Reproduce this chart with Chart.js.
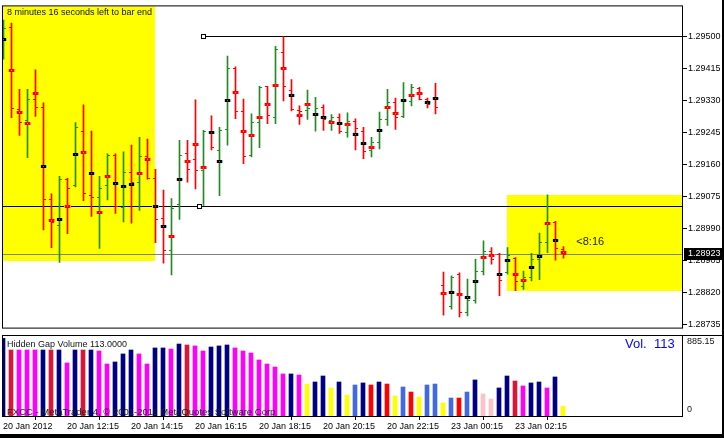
<!DOCTYPE html>
<html>
<head>
<meta charset="utf-8">
<script src="https://cdn.jsdelivr.net/npm/chart.js@4.4.1/dist/chart.umd.min.js"></script>
<style>
html, body { margin: 0; padding: 0; background: #fff; }
#wrap { position: relative; width: 724px; height: 438px; overflow: hidden; background: #fff; }
#priceChart { position: absolute; left: 0; top: 0; }
#volChart { position: absolute; left: 0; top: 334px; }
.edgeR { position: absolute; left: 722px; top: 0; width: 2px; height: 438px; background: #000; }
.edgeB { position: absolute; left: 0; top: 434px; width: 724px; height: 4px; background: #000; }
</style>
</head>
<body>
<div id="wrap">
  <canvas id="priceChart" width="724" height="334"></canvas>
  <canvas id="volChart" width="724" height="104"></canvas>
  <div class="edgeR"></div>
  <div class="edgeB"></div>
</div>
<script>
// EURUSD-like M15 bars
var opens = [1.29472,1.29523,1.29306,1.29277,1.29332,1.29313,1.29067,1.29000,1.29122,1.29104,
  1.29249,1.29078,1.29072,1.29106,1.29184,1.29047,1.29140,1.29114,1.29181,1.29124,
  1.29018,1.28932,1.29054,1.29189,1.29173,1.29145,1.29249,1.29199,1.29254,1.29414,
  1.29300,1.29184,1.29272,1.29368,1.29285,1.29459,1.29358,1.29303,1.29303,1.29293,
  1.29311,1.29277,1.29285,1.29246,1.29275,1.29249,1.29197,1.29218,1.29280,1.29326,
  1.29288,1.29329,1.29363,1.29334,1.29339,1.28839,1.28785,1.28870,1.28767,1.28800,
  1.28878,1.28930,1.28922,1.28875,1.28912,1.28837,1.28860,1.28909,1.28953,1.29008,
  1.28935];
var highs = [1.29544,1.29536,1.29360,1.29360,1.29412,1.29324,1.29083,1.29129,1.29124,1.29272,
  1.29319,1.29249,1.29129,1.29189,1.29189,1.29194,1.29212,1.29233,1.29228,1.29148,
  1.29093,1.29070,1.29225,1.29225,1.29332,1.29251,1.29290,1.29259,1.29448,1.29420,
  1.29334,1.29295,1.29368,1.29368,1.29474,1.29500,1.29386,1.29316,1.29358,1.29339,
  1.29319,1.29293,1.29295,1.29298,1.29282,1.29259,1.29233,1.29300,1.29360,1.29337,
  1.29378,1.29373,1.29365,1.29337,1.29376,1.28875,1.28865,1.28873,1.28857,1.28909,
  1.28958,1.28940,1.28925,1.28940,1.28914,1.28878,1.28925,1.28979,1.29080,1.29010,
  1.28943];
var lows = [1.29440,1.29285,1.29238,1.29179,1.29288,1.28987,1.28940,1.28901,1.28977,1.29101,
  1.29065,1.29023,1.28938,1.29067,1.29031,1.29008,1.29005,1.29039,1.29122,1.28953,
  1.28899,1.28868,1.29015,1.29114,1.29096,1.29052,1.29199,1.29078,1.29212,1.29282,
  1.29163,1.29181,1.29205,1.29269,1.29269,1.29329,1.29303,1.29267,1.29280,1.29249,
  1.29251,1.29251,1.29243,1.29233,1.29199,1.29176,1.29181,1.29202,1.29264,1.29254,
  1.29285,1.29316,1.29332,1.29311,1.29295,1.28761,1.28777,1.28756,1.28759,1.28793,
  1.28868,1.28896,1.28813,1.28870,1.28826,1.28829,1.28852,1.28855,1.28927,1.28907,
  1.28912];
var closes = [1.29521,1.29308,1.29272,1.29332,1.29311,1.29067,1.29008,1.29122,1.29098,1.29259,
  1.29085,1.29072,1.29098,1.29184,1.29049,1.29140,1.29114,1.29181,1.29124,1.29015,
  1.28932,1.29044,1.29184,1.29148,1.29145,1.29249,1.29207,1.29251,1.29414,1.29300,
  1.29181,1.29272,1.29365,1.29290,1.29466,1.29368,1.29306,1.29300,1.29308,1.29308,
  1.29280,1.29285,1.29249,1.29275,1.29256,1.29194,1.29218,1.29280,1.29324,1.29285,
  1.29329,1.29365,1.29334,1.29321,1.29311,1.28816,1.28862,1.28767,1.28800,1.28878,
  1.28930,1.28909,1.28852,1.28920,1.28850,1.28860,1.28909,1.28953,1.29008,1.28938,
  1.28923];
// median marker colour per bar: r = red, k = black
var markerKinds = ('krrrrkrkrk' + 'rkrrkkkrrk' + 'krkrrrkkkr' + 'rrrrrrkrrk' + 'krkrkkrkrr' +
  'krrkkrkrkk' + 'rrkkrrkkrk' + 'r').split('');

// Hidden Gap Volume histogram
var volumes = [885,749,749,749,749,749,749,749,602,749,
  749,749,738,590,613,704,749,704,590,772,
  772,760,817,806,795,738,783,795,806,772,
  738,715,636,590,556,477,477,465,363,386,
  454,318,386,238,352,375,352,386,363,227,
  329,272,216,352,363,148,204,204,272,409,
  250,193,318,454,397,341,375,386,318,443,
  113];
var volKinds = ('NCMMMNCNMN' + 'CNMMNNNMMN' + 'NMNCMMNNNM' + 'MMMMMMNMYN' + 'NYNYBNRNRY' +
  'BRYBBYBRBN' + 'PPNNCMNNMN' + 'Y').split('');
var volPalette = { N: '#000080', C: '#dc143c', M: '#ff00ff', Y: '#ffff00', B: '#4169e1', R: '#ff0000', P: '#ffc0cb' };

var timeLabels = ['20 Jan 2012', '20 Jan 12:15', '20 Jan 14:15', '20 Jan 16:15', '20 Jan 18:15',
  '20 Jan 20:15', '20 Jan 22:15', '23 Jan 00:15', '23 Jan 02:15'];
var labelIdx = [0, 8, 16, 24, 32, 40, 48, 56, 64];
var priceTicks = [1.28735, 1.28820, 1.28905, 1.28990, 1.29075, 1.29160, 1.29245, 1.29330, 1.29415, 1.29500];

// objects on the chart
var boxFrom = [-0.0625, 62.94];
var boxTo = [18.94, 84.9375];
var boxTop = [1.29580, 1.29080];
var boxBottom = [1.28904, 1.28826];
var levelPrices = [1.29500, 1.29050];
var levelFrom = [25.0, -0.0625];
var anchorIdx = [25.0, 24.5];
var countdownAt = [71.6, 1.28956];

var xMin = -0.0625, xMax = 84.9375;
var upColor = '#228b22', downColor = '#ff0000';

Chart.defaults.font.family = "'Liberation Sans', Arial, sans-serif";
Chart.defaults.font.size = 9;
Chart.defaults.color = '#000';
Chart.defaults.animation = false;

function tickImage(color, open) {
  var c = document.createElement('canvas');
  c.width = 7; c.height = 1;
  var g = c.getContext('2d');
  g.fillStyle = color;
  g.fillRect(open ? 1 : 4, 0, 2, 1);
  return c;
}
function markerImage(kind) {
  var c = document.createElement('canvas');
  c.width = 7; c.height = 3;
  var g = c.getContext('2d');
  g.fillStyle = kind === 'r' ? '#ff0000' : '#000000';
  g.fillRect(0, 0, 7, 3);
  g.fillStyle = kind === 'r' ? '#ffb070' : '#f0c890';
  g.fillRect(0, 0, 1, 3);
  g.fillStyle = kind === 'r' ? '#ff7fa0' : '#70c8ff';
  g.fillRect(6, 0, 1, 3);
  g.fillStyle = kind === 'r' ? '#ff9a9a' : '#7a7a7a';
  g.fillRect(3, 1, 1, 1);
  return c;
}

var idx = opens.map(function (_, i) { return i; });
var isUp = idx.map(function (i) { return closes[i] >= opens[i]; });
var imgs = {
  openUp: tickImage(upColor, true), openDn: tickImage(downColor, true),
  closeUp: tickImage(upColor, false), closeDn: tickImage(downColor, false),
  r: markerImage('r'), k: markerImage('k')
};

var priceDecor = {
  id: 'priceDecor',
  beforeDatasetsDraw: function (chart) {
    var ctx = chart.ctx, a = chart.chartArea, x = chart.scales.x, y = chart.scales.y;
    ctx.save();
    ctx.beginPath();
    ctx.rect(a.left, a.top, a.right - a.left, a.bottom - a.top);
    ctx.clip();
    ctx.fillStyle = '#ffff00';
    for (var k = 0; k < boxFrom.length; k++) {
      var x0 = Math.round(x.getPixelForValue(boxFrom[k])), x1 = Math.round(x.getPixelForValue(boxTo[k]));
      var y0 = Math.round(y.getPixelForValue(boxTop[k])), y1 = Math.round(y.getPixelForValue(boxBottom[k]));
      ctx.fillRect(x0, y0, x1 - x0, y1 - y0);
    }
    // bid line
    var py = Math.floor(y.getPixelForValue(closes[closes.length - 1])) + 0.5;
    ctx.strokeStyle = '#808080';
    ctx.lineWidth = 1;
    ctx.beginPath(); ctx.moveTo(a.left, py); ctx.lineTo(a.right, py); ctx.stroke();
    // horizontal levels
    ctx.strokeStyle = '#000';
    for (var j = 0; j < levelPrices.length; j++) {
      var ly = Math.floor(y.getPixelForValue(levelPrices[j])) + 0.5;
      ctx.beginPath();
      ctx.moveTo(Math.max(a.left, x.getPixelForValue(levelFrom[j])), ly);
      ctx.lineTo(a.right, ly);
      ctx.stroke();
    }
    ctx.restore();
  },
  afterDatasetsDraw: function (chart) {
    var ctx = chart.ctx, a = chart.chartArea, x = chart.scales.x, y = chart.scales.y;
    ctx.save();
    ctx.lineWidth = 1;
    ctx.strokeStyle = '#000';
    ctx.fillStyle = '#fff';
    for (var j = 0; j < anchorIdx.length; j++) {
      var ax = Math.floor(x.getPixelForValue(anchorIdx[j]));
      var ay = Math.floor(y.getPixelForValue(levelPrices[j]));
      ctx.fillRect(ax - 2, ay - 2, 5, 5);
      ctx.strokeRect(ax - 1.5, ay - 1.5, 4, 4);
    }
    ctx.fillStyle = '#111';
    ctx.textBaseline = 'middle';
    ctx.textAlign = 'left';
    ctx.font = "9px 'Liberation Sans', Arial, sans-serif";
    ctx.fillText('8 minutes 16 seconds left to bar end', a.left + 4, a.top + 6);
    ctx.font = "11px 'Liberation Sans', Arial, sans-serif";
    ctx.fillStyle = '#222';
    ctx.fillText('<8:16', x.getPixelForValue(countdownAt[0]), y.getPixelForValue(countdownAt[1]));
    ctx.restore();
  },
  afterDraw: function (chart) {
    var ctx = chart.ctx, a = chart.chartArea, y = chart.scales.y;
    ctx.save();
    ctx.strokeStyle = '#000';
    ctx.lineWidth = 1;
    ctx.strokeRect(a.left - 0.5, a.top - 0.5, a.right - a.left, a.bottom - a.top + 1);
    var last = closes[closes.length - 1];
    var cy = Math.round(y.getPixelForValue(last));
    ctx.fillStyle = '#000';
    ctx.fillRect(a.right + 1, cy - 6, 40, 12);
    ctx.fillStyle = '#fff';
    ctx.font = "9px 'Liberation Sans', Arial, sans-serif";
    ctx.textBaseline = 'middle';
    ctx.fillText(last.toFixed(5), a.right + 5, cy);
    ctx.restore();
  }
};

new Chart(document.getElementById('priceChart').getContext('2d'), {
  type: 'bar',
  data: {
    datasets: [
      {
        type: 'scatter', order: 0,
        data: idx.map(function (i) { return { x: i, y: (highs[i] + lows[i]) / 2 }; }),
        pointStyle: idx.map(function (i) { return imgs[markerKinds[i]]; }),
        pointRadius: 2
      },
      {
        type: 'scatter', order: 1,
        data: idx.map(function (i) { return { x: i, y: opens[i] }; }),
        pointStyle: idx.map(function (i) { return isUp[i] ? imgs.openUp : imgs.openDn; }),
        pointRadius: 2
      },
      {
        type: 'scatter', order: 1,
        data: idx.map(function (i) { return { x: i, y: closes[i] }; }),
        pointStyle: idx.map(function (i) { return isUp[i] ? imgs.closeUp : imgs.closeDn; }),
        pointRadius: 2
      },
      {
        type: 'bar', order: 2,
        data: idx.map(function (i) { return { x: i, y: [lows[i], highs[i]] }; }),
        backgroundColor: idx.map(function (i) { return isUp[i] ? upColor : downColor; }),
        barThickness: 1,
        borderWidth: 0
      }
    ]
  },
  options: {
    responsive: false,
    maintainAspectRatio: false,
    devicePixelRatio: 1,
    layout: { autoPadding: false, padding: { left: 3, top: 3, right: 0, bottom: 2 } },
    plugins: { legend: { display: false }, tooltip: { enabled: false } },
    scales: {
      x: { type: 'linear', min: xMin, max: xMax, offset: false, display: false },
      y: {
        type: 'linear', position: 'right', min: 1.28728, max: 1.29580,
        afterBuildTicks: function (s) { s.ticks = priceTicks.map(function (v) { return { value: v }; }); },
        afterFit: function (s) { s.width = 41; },
        border: { display: false },
        grid: { drawOnChartArea: false, drawTicks: true, tickLength: 4, color: '#000' },
        ticks: {
          autoSkip: false, padding: 1, color: '#000',
          font: { size: 9 },
          callback: function (v) { return Number(v).toFixed(5); }
        }
      }
    }
  },
  plugins: [priceDecor]
});

var volDecor = {
  id: 'volDecor',
  afterDraw: function (chart) {
    var ctx = chart.ctx, a = chart.chartArea, y = chart.scales.y;
    ctx.save();
    ctx.strokeStyle = '#000';
    ctx.lineWidth = 1;
    ctx.strokeRect(a.left - 0.5, 1.5, a.right - a.left, a.bottom - 1);
    ctx.beginPath(); ctx.moveTo(a.right, 1.5); ctx.lineTo(722, 1.5); ctx.stroke();
    ctx.textBaseline = 'middle';
    ctx.textAlign = 'left';
    ctx.fillStyle = '#111';
    ctx.font = "9px 'Liberation Sans', Arial, sans-serif";
    ctx.fillText('Hidden Gap Volume ' + volumes[volumes.length - 1].toFixed(4), a.left + 4, 11);
    ctx.fillText('885.15', a.right + 4, y.getPixelForValue(885.15) + 4);
    ctx.fillText('0', a.right + 4, y.getPixelForValue(0) - 6);
    ctx.fillStyle = '#222';
    ctx.font = "9.5px 'Liberation Sans', Arial, sans-serif";
    ctx.fillText('FXCC - MetaTrader 4, \u00a9 2001-2011 MetaQuotes Software Corp', a.left + 4, 78);
    ctx.fillStyle = '#0000ff';
    ctx.font = "13px 'Liberation Sans', Arial, sans-serif";
    ctx.fillText('Vol.  ' + volumes[volumes.length - 1], 625, 10);
    ctx.restore();
  }
};

new Chart(document.getElementById('volChart').getContext('2d'), {
  type: 'bar',
  data: {
    datasets: [{
      data: idx.map(function (i) { return { x: i, y: volumes[i] }; }),
      backgroundColor: volKinds.map(function (k) { return volPalette[k]; }),
      barThickness: 4,
      borderWidth: 0
    }]
  },
  options: {
    responsive: false,
    maintainAspectRatio: false,
    devicePixelRatio: 1,
    layout: { autoPadding: false, padding: { left: 3, top: 4, right: 0, bottom: 5 } },
    plugins: { legend: { display: false }, tooltip: { enabled: false } },
    scales: {
      x: {
        type: 'linear', min: 0, max: 85, offset: false, position: 'bottom',
        afterBuildTicks: function (s) { s.ticks = labelIdx.map(function (v) { return { value: v }; }); },
        afterFit: function (s) { s.height = 17; },
        border: { display: false },
        grid: { drawOnChartArea: false, drawTicks: true, tickLength: 4, color: '#000' },
        ticks: {
          autoSkip: false, maxRotation: 0, minRotation: 0, align: 'start', padding: 1,
          color: '#000', font: { size: 9 },
          callback: function (v, i) { return timeLabels[i]; }
        }
      },
      y: {
        type: 'linear', position: 'right', min: 0, max: 885.15,
        afterFit: function (s) { s.width = 41; },
        border: { display: false },
        grid: { display: false },
        ticks: { display: false }
      }
    }
  },
  plugins: [volDecor]
});
</script>
</body>
</html>
